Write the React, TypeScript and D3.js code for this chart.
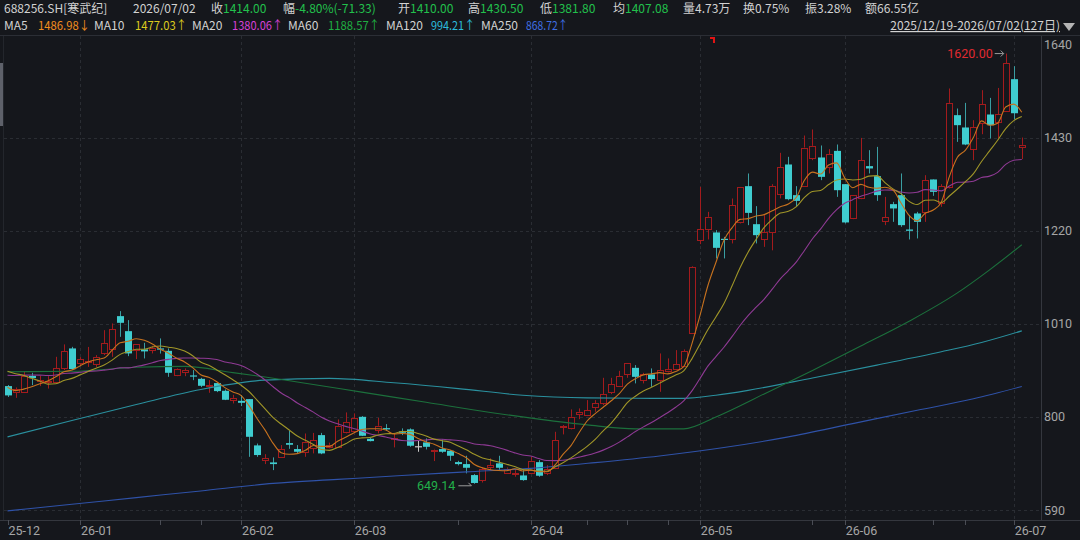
import React, { useEffect, useRef } from "react";
import * as d3 from "d3";

// 127 trading days, 2025/12/19 - 2026/07/02
const opens = [
  869.6, 854.5, 855.4, 892.8, 880.2, 877.9, 877.9, 909.5, 954.6, 920.8,
  923, 919.2, 943.3, 952.4, 1027.5, 993.6, 950.8, 952.4, 950.8, 954.6,
  949.2, 893.7, 901.2, 893.7, 886, 868, 876.4, 859, 838.7, 836.4,
  840.2, 735.8, 702, 697.4, 708.7, 741, 727.5, 721.4, 729, 759,
  733, 732.6, 765.1, 766.5, 800.3, 750.7, 770.3, 774.8, 749.7, 767.4,
  771.9, 734, 742.5, 723.5, 727.5, 723.7, 698.1, 693.6, 668.8, 659,
  687.5, 695.3, 674, 671.8, 668, 674, 698, 672.6, 684, 776.4,
  776.4, 806.4, 804.1, 820.6, 830.5, 856.7, 870.3, 897.4, 910.8, 882.4,
  895.9, 883.1, 904, 907, 914.7, 988.5, 1197.4, 1225.3, 1216.3, 1202,
  1200.5, 1238, 1320.8, 1235, 1200.5, 1217.7, 1302.7, 1369.7, 1300.5, 1322.4,
  1385.5, 1385.5, 1364.3, 1400.4, 1325.3, 1247.9, 1293, 1366, 1343.3, 1240.2,
  1280.2, 1300.5, 1223, 1259.2, 1262.8, 1335.9, 1283.1, 1319.2, 1481, 1453.2,
  1403.6, 1462.2, 1482.5, 1463.7, 1488.4, 1562.2, 1410,
];
const highs = [
  872, 866.6, 903.4, 899.6, 892.8, 892, 935.7, 963.7, 958.2, 935,
  958, 939.5, 995.9, 1011, 1038.8, 1018.5, 963.7, 967.3, 960.5, 977.2,
  954.6, 909.5, 909.5, 905.7, 888.3, 883.1, 876.4, 862, 850, 849.2,
  840.2, 740, 716, 708.7, 736.5, 768.7, 736.5, 762.7, 764, 764,
  742, 794.4, 810.2, 808, 801.9, 752.3, 798, 783.8, 762.9, 774.2,
  774.2, 747.7, 751.6, 728, 749.3, 725.2, 701, 712.4, 671, 686.2,
  706.6, 712.4, 686, 680, 680, 710, 702.6, 691.3, 766.5, 781.6,
  817, 819.3, 838, 838, 888.3, 888.3, 904, 922.2, 917, 899.6,
  909.5, 943.3, 932.1, 950.8, 952.4, 1140, 1319.2, 1262.8, 1221.5, 1206.4,
  1293, 1319, 1349.4, 1275.7, 1255.4, 1325.3, 1396, 1387, 1320.8, 1435,
  1448.7, 1412.6, 1404.3, 1414.8, 1325.3, 1300.5, 1429.7, 1402, 1409.4, 1296.6,
  1285.4, 1349.4, 1255.4, 1262.8, 1345.6, 1335.9, 1325.3, 1541.2, 1496, 1508.7,
  1469.7, 1537.4, 1520, 1542.4, 1620, 1591.5, 1430.5,
];
const lows = [
  845, 843, 855.4, 871.8, 869.6, 864, 875.7, 905.7, 905.7, 914.7,
  913, 913, 939.5, 935.7, 980.8, 937.2, 930.5, 932, 943.3, 943,
  890.5, 892, 892, 883, 867.3, 854.5, 856, 838, 830.5, 824.5,
  710, 710, 693.6, 680, 708.7, 728, 717.7, 710, 717.7, 716,
  729, 732.6, 762.9, 764, 756.8, 744.8, 762.9, 768.7, 731.3, 759,
  732.6, 721.4, 726.7, 700.4, 719, 701, 690.7, 672.6, 649.14, 652,
  680, 680, 672.6, 665, 656, 672.6, 665, 668.8, 682.3, 760.6,
  772, 795, 801.9, 811.6, 826.7, 851.5, 868, 888.3, 875.7, 875.7,
  868, 856.7, 900.5, 905.7, 913.1, 988.5, 1190, 1200.5, 1157.7, 1157.7,
  1191.5, 1236.6, 1232.8, 1191.5, 1183.8, 1176, 1293, 1289, 1274, 1319,
  1379.4, 1334.3, 1349.4, 1296.6, 1236.6, 1246.3, 1291.4, 1349.4, 1287.6, 1232.8,
  1240.2, 1229, 1200.5, 1202.8, 1240.2, 1298.9, 1274, 1315.6, 1420.7, 1413.3,
  1379.4, 1438, 1428.4, 1428.4, 1488.4, 1471.3, 1381.8,
];
const closes = [
  848.6, 862, 892, 887.6, 883.1, 880.8, 909.5, 947.9, 907.9, 929.8,
  926, 934.3, 965.9, 997.5, 1012.4, 943.3, 963.7, 947.9, 956, 952.4,
  899.6, 907.3, 905.7, 892.1, 870.3, 871.2, 858.3, 838.7, 843, 831.9,
  755.2, 714, 707.1, 693.6, 726.7, 737.2, 721.4, 744, 747.7, 717.7,
  737, 780, 787.7, 796.7, 757.5, 745.5, 780, 771.9, 752, 764.3,
  735, 734, 732.6, 726.5, 721.4, 712.4, 693.6, 685.3, 651, 683,
  691.3, 685.3, 683, 673.3, 657.5, 701, 667.3, 682.3, 747.7, 779.3,
  800.3, 811.6, 815.4, 830.5, 851.5, 874.1, 892, 922.2, 890.5, 895.9,
  885.4, 905.7, 907.9, 919, 948.5, 1138.2, 1223, 1251.5, 1181.6, 1200,
  1277.9, 1317.8, 1260.5, 1210.2, 1216.3, 1320.8, 1363, 1291.4, 1287.6, 1408,
  1411.7, 1341.8, 1393, 1311.7, 1238.9, 1300.5, 1379.4, 1360.7, 1300.5, 1250.2,
  1270.5, 1232.8, 1220, 1240.2, 1334.3, 1307.9, 1320.8, 1508.7, 1458.4, 1414.8,
  1453.2, 1505.8, 1458.4, 1482.5, 1597.6, 1485.33, 1414,
];
// closes of the 19 sessions before the window (for MA5/10/20)
const prevCloses = [
  870, 880, 875, 890, 900, 885, 880, 895, 890, 885,
  915, 930, 955, 945, 950, 900, 875, 860, 851,
];

// long averages: [day index, value]
const ma60Pts: [number, number][] = [
  [0, 902], [8, 903], [16, 912], [22, 914], [28, 900], [32, 890], [36, 879],
  [44, 856], [52, 833], [60, 810], [66, 795], [72, 782], [78, 773], [84, 773],
  [88, 800], [94, 852], [100, 905], [106, 960], [112, 1016], [118, 1080],
  [122, 1132], [126, 1188.57],
];
const ma120Pts: [number, number][] = [
  [0, 755], [8, 792], [16, 828], [24, 862], [32, 883], [40, 887], [48, 877],
  [56, 864], [64, 849], [72, 843], [80, 842], [84, 842], [88, 849], [92, 860],
  [100, 888], [108, 917], [116, 947], [121, 968], [126, 994.21],
];
const ma250Pts: [number, number][] = [
  [0, 588], [8, 603], [16, 618], [24, 633], [33, 650], [41, 659], [49, 668],
  [57, 676], [65, 684], [73, 697], [81, 712], [89, 731], [97, 755], [105, 785],
  [113, 815], [120, 841], [126, 868.72],
];

const monthLabels = ["25-12", "26-01", "26-02", "26-03", "26-04", "26-05", "26-06", "26-07"];
const monthStart = [0, 9, 29, 43, 65, 86, 104, 125];
const minorTicks = [19, 24, 56, 72, 77, 82, 100, 115, 119];
const yTicks = [590, 800, 1010, 1220, 1430, 1640];

const headerItems = [
  { x: 4, label: "688256.SH[寒武纪]", value: "" },
  { x: 133, label: "2026/07/02", value: "" },
  { x: 211, label: "收", value: "1414.00" },
  { x: 283, label: "幅", value: "-4.80%(-71.33)" },
  { x: 398, label: "开", value: "1410.00" },
  { x: 468, label: "高", value: "1430.50" },
  { x: 540, label: "低", value: "1381.80" },
  { x: 613, label: "均", value: "1407.08" },
  { x: 683, label: "量4.73万", value: "" },
  { x: 743, label: "换0.75%", value: "" },
  { x: 805, label: "振3.28%", value: "" },
  { x: 865, label: "额66.55亿", value: "" },
];
const maLegend = [
  { x: 4, vx: 38, w: 52, name: "MA5", value: "1486.98↓", color: "#f08c1e" },
  { x: 94, vx: 135, w: 52, name: "MA10", value: "1477.03↑", color: "#dccb1e" },
  { x: 192, vx: 232, w: 51, name: "MA20", value: "1380.06↑", color: "#d640d6" },
  { x: 288, vx: 328, w: 52, name: "MA60", value: "1188.57↑", color: "#1fae42" },
  { x: 386, vx: 431, w: 44, name: "MA120", value: "994.21↑", color: "#2cbcdc" },
  { x: 481, vx: 526, w: 42, name: "MA250", value: "868.72↑", color: "#3f6fe2" },
];

const BG = "#15171c";
const UP = "#a31b1d";
const DOWN = "#3fcdd0";
const DOWN_WICK = "#3a9ea2";
const GREEN_TXT = "#22c04c";
const FONT = "'Noto Sans CJK SC', 'Noto Sans', sans-serif";

function App() {
  const svgRef: any = useRef(null);

  useEffect(() => {
    draw();
  }, []);

  const draw = () => {
    const svg = d3.select(svgRef.current);
    svg.selectAll("*").remove();

    const plotTop = 36;
    const plotBottom = 520;
    const axisX = 1041;

    const x = d3.scaleLinear().domain([0, 126]).range([7.5, 1021.8]);
    const y = d3.scaleLinear().domain([590, 1640]).range([510, 44.7]);

    svg.append("rect").attr("width", 1080).attr("height", 540).attr("fill", BG);

    // header
    const h1 = svg.append("g").attr("font-family", FONT).attr("font-size", 12);
    headerItems.forEach((d) => {
      const t = h1.append("text").attr("x", d.x).attr("y", 13).attr("fill", "#d2d2d2");
      t.append("tspan").text(d.label);
      if (d.value) t.append("tspan").attr("fill", GREEN_TXT).text(d.value);
    });
    maLegend.forEach((d) => {
      h1.append("text").attr("x", d.x).attr("y", 30).attr("fill", "#d2d2d2").text(d.name);
      h1.append("text")
        .attr("x", d.vx)
        .attr("y", 30)
        .attr("fill", d.color)
        .attr("textLength", d.w)
        .attr("lengthAdjust", "spacingAndGlyphs")
        .text(d.value);
    });
    h1.append("text")
      .attr("x", 1060)
      .attr("y", 30)
      .attr("text-anchor", "end")
      .attr("fill", "#d2d2d2")
      .attr("text-decoration", "underline")
      .text("2025/12/19-2026/07/02(127日)");
    svg.append("path").attr("d", "M1063,23 L1075,23 L1069,31 Z").attr("fill", "#b4b4b4");

    // frame
    svg.append("line").attr("x1", 0).attr("x2", 1080).attr("y1", 35.5).attr("y2", 35.5).attr("stroke", "#2b2e35");
    svg.append("line").attr("x1", 0).attr("x2", 1080).attr("y1", plotBottom + 0.5).attr("y2", plotBottom + 0.5).attr("stroke", "#34373e");
    svg.append("line").attr("x1", axisX + 0.5).attr("x2", axisX + 0.5).attr("y1", plotTop).attr("y2", plotBottom).attr("stroke", "#34373e");
    svg.append("line").attr("x1", 3.5).attr("x2", 3.5).attr("y1", plotTop).attr("y2", plotBottom).attr("stroke", "#23262c");
    svg.append("rect").attr("x", 0).attr("y", 63).attr("width", 3).attr("height", 63).attr("fill", "#5e616a");

    // grid
    svg.append("g")
      .selectAll("line")
      .data(yTicks.filter((v) => v < 1640))
      .join("line")
      .attr("x1", 4)
      .attr("x2", axisX)
      .attr("y1", (d) => Math.round(y(d)) + 0.5)
      .attr("y2", (d) => Math.round(y(d)) + 0.5)
      .attr("stroke", "#2a2d33")
      .attr("stroke-dasharray", "3,3");
    svg.append("g")
      .selectAll("line")
      .data(monthStart.slice(1))
      .join("line")
      .attr("x1", (d) => Math.round(x(d)) + 0.5)
      .attr("x2", (d) => Math.round(x(d)) + 0.5)
      .attr("y1", plotTop)
      .attr("y2", plotBottom)
      .attr("stroke", "#2a2d33")
      .attr("stroke-dasharray", "3,3");

    // right axis labels
    svg.append("g")
      .selectAll("text")
      .data(yTicks)
      .join("text")
      .attr("x", 1044)
      .attr("y", (d) => y(d) + 4.5)
      .attr("fill", "#a6a6a6")
      .attr("font-family", "Roboto, sans-serif")
      .attr("font-size", 12.5)
      .text((d) => d);

    // bottom ticks and month labels
    svg.append("g")
      .selectAll("line")
      .data([...monthStart, ...minorTicks])
      .join("line")
      .attr("x1", (d) => Math.round(x(d)) + 0.5)
      .attr("x2", (d) => Math.round(x(d)) + 0.5)
      .attr("y1", plotBottom)
      .attr("y2", plotBottom + 5)
      .attr("stroke", "#4a4d55");
    svg.append("g")
      .selectAll("text")
      .data(monthLabels)
      .join("text")
      .attr("x", (d, i) => Math.max(5, x(monthStart[i]) + 1))
      .attr("y", 535)
      .attr("fill", "#a6a6a6")
      .attr("font-family", "Roboto, sans-serif")
      .attr("font-size", 12.5)
      .text((d) => d);

    // candles
    const g = svg.append("g");
    closes.forEach((c, i) => {
      const o = opens[i];
      const cx = Math.round(x(i));
      const yh = y(highs[i]);
      const yl = y(lows[i]);
      const top = y(Math.max(o, c));
      const bot = y(Math.min(o, c));
      if (c > o) {
        g.append("line").attr("x1", cx + 0.5).attr("x2", cx + 0.5).attr("y1", yh).attr("y2", top).attr("stroke", UP);
        g.append("line").attr("x1", cx + 0.5).attr("x2", cx + 0.5).attr("y1", bot).attr("y2", yl).attr("stroke", UP);
        g.append("rect")
          .attr("x", cx - 2.5)
          .attr("y", Math.round(top) + 0.5)
          .attr("width", 6)
          .attr("height", Math.max(1, Math.round(bot - top)))
          .attr("fill", BG)
          .attr("stroke", UP);
      } else {
        const col = c === o ? "#c8c8c8" : DOWN;
        g.append("line").attr("x1", cx + 0.5).attr("x2", cx + 0.5).attr("y1", yh).attr("y2", yl).attr("stroke", c === o ? col : DOWN_WICK);
        g.append("rect")
          .attr("x", cx - 3)
          .attr("y", top)
          .attr("width", 7)
          .attr("height", Math.max(1.2, bot - top))
          .attr("fill", col);
      }
    });

    // moving averages
    const all = prevCloses.concat(closes);
    const ma = (n: number) =>
      closes.map((_, i) => [i, d3.mean(all.slice(i + prevCloses.length - n + 1, i + prevCloses.length + 1)) as number]);
    const line = d3
      .line<any>()
      .x((d) => x(d[0]))
      .y((d) => y(d[1]))
      .curve(d3.curveMonotoneX);
    const maLines: [any[], string][] = [
      [ma250Pts, "#2f52a8"],
      [ma120Pts, "#2a909e"],
      [ma60Pts, "#1c703c"],
      [ma(20), "#8f3a94"],
      [ma(10), "#a09628"],
      [ma(5), "#c7721f"],
    ];
    maLines.forEach(([pts, col]) => {
      svg.append("path").datum(pts).attr("d", line).attr("fill", "none").attr("stroke", col).attr("stroke-width", 1.1);
    });

    // high / low markers
    const hiI = d3.maxIndex(highs);
    const loI = d3.minIndex(lows);
    const ann = svg.append("g").attr("font-family", "Roboto, sans-serif").attr("font-size", 12.5);
    const hy = y(highs[hiI]);
    ann.append("text").attr("x", x(hiI) - 13).attr("y", hy + 4).attr("text-anchor", "end").attr("fill", "#e02a30").text(highs[hiI].toFixed(2));
    ann.append("path")
      .attr("d", `M${x(hiI) - 11},${hy} H${x(hiI) - 2} M${x(hiI) - 5},${hy - 3} L${x(hiI) - 2},${hy} L${x(hiI) - 5},${hy + 3}`)
      .attr("stroke", "#9a9a9a")
      .attr("fill", "none");
    const ly = y(lows[loI]);
    ann.append("text").attr("x", x(loI) - 19).attr("y", ly + 6).attr("text-anchor", "end").attr("fill", "#22b04a").text(lows[loI].toFixed(2));
    ann.append("path")
      .attr("d", `M${x(loI) - 16},${ly + 2} H${x(loI) - 3} M${x(loI) - 6},${ly - 1} L${x(loI) - 3},${ly + 2}`)
      .attr("stroke", "#9a9a9a")
      .attr("fill", "none");

    // small red marker at top
    svg.append("rect").attr("x", 710).attr("y", 37).attr("width", 5).attr("height", 2).attr("fill", "#e01414");
    svg.append("rect").attr("x", 713).attr("y", 37).attr("width", 2).attr("height", 6).attr("fill", "#e01414");
  };

  return (
    <div className="canvas">
      <svg
        ref={svgRef}
        width={1080}
        height={540}
        style={{ position: "fixed", left: 0, top: 0, display: "block" }}
      />
    </div>
  );
}

export default App;
